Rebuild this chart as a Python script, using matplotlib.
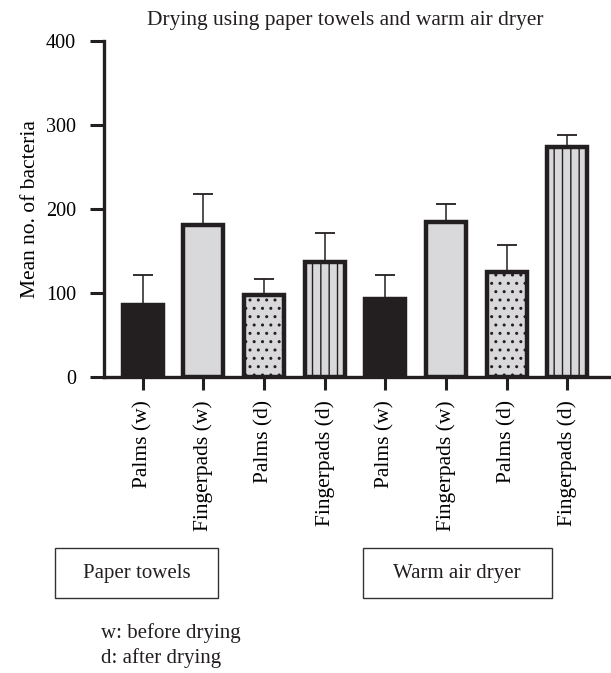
import matplotlib
matplotlib.use("Agg")
import matplotlib.pyplot as plt
import matplotlib.patches as mpatches
import numpy as np

plt.rcParams["font.family"] = ["Liberation Serif", "DejaVu Serif"]
plt.rcParams["hatch.linewidth"] = 1.0

labels = ["Palms (w)", "Fingerpads (w)", "Palms (d)", "Fingerpads (d)",
          "Palms (w)", "Fingerpads (w)", "Palms (d)", "Fingerpads (d)"]
means = [86, 181, 97, 137, 93, 184, 125, 274]
err_up = [35, 37, 20, 34, 28, 22, 32, 14]
fills = ["#231f20", "#d9d9db", "#d9d9db", "#d9d9db",
         "#231f20", "#d9d9db", "#d9d9db", "#d9d9db"]
hatches = ["", "", "..", "||", "", "", "..", "||"]

INK = "#231f20"

fig = plt.figure(figsize=(6.11, 6.73), dpi=100)
ax = fig.add_axes([0.170, 0.4403, 0.998 - 0.170, 0.939 - 0.4403])

x = np.arange(len(means))
ax.errorbar(x, means, yerr=[np.zeros(len(means)), err_up], fmt="none",
            ecolor=INK, elinewidth=1.1, capsize=7, capthick=1.3, zorder=1)
bars = ax.bar(x, means, width=0.66, color=fills, edgecolor=INK,
              linewidth=3.2, zorder=2)
for b, h in zip(bars, hatches):
    b.set_hatch(h)

ax.set_xlim(-0.64, 7.70)
ax.set_ylim(0, 400)
ax.set_yticks([0, 100, 200, 300, 400])
ax.set_xticks(x)
ax.set_xticklabels(labels, rotation=90, fontsize=15.5, va="top")
ax.tick_params(axis="y", labelsize=14.5, length=10, width=2.2, pad=10, color=INK)
ax.tick_params(axis="x", length=9, width=2.2, pad=8, color=INK)
for s in ["top", "right"]:
    ax.spines[s].set_visible(False)
for s in ["left", "bottom"]:
    ax.spines[s].set_linewidth(2.4)
    ax.spines[s].set_color(INK)

ax.set_ylabel("Mean no. of bacteria", fontsize=15.5, labelpad=4)
fig.text(345 / 611, 0.970, "Drying using paper towels and warm air dryer",
         fontsize=15.5, ha="center", va="center", color=INK)

# group boxes
for x0, x1, txt in [(0.090, 0.357, "Paper towels"),
                    (0.5934, 0.9034, "Warm air dryer")]:
    fig.patches.append(mpatches.Rectangle((x0, 0.1114), x1 - x0, 0.1857 - 0.1114,
                                          transform=fig.transFigure,
                                          facecolor="none", edgecolor="#333333",
                                          linewidth=1.0))
    fig.text((x0 + x1) / 2, (0.1114 + 0.1857) / 2, txt, fontsize=15,
             ha="center", va="center", color=INK)

fig.text(101 / 611, 0.0594, "w: before drying", fontsize=15, va="center", color=INK)
fig.text(101 / 611, 0.0223, "d: after drying", fontsize=15, va="center", color=INK)

fig.savefig("out.png", dpi=100)
